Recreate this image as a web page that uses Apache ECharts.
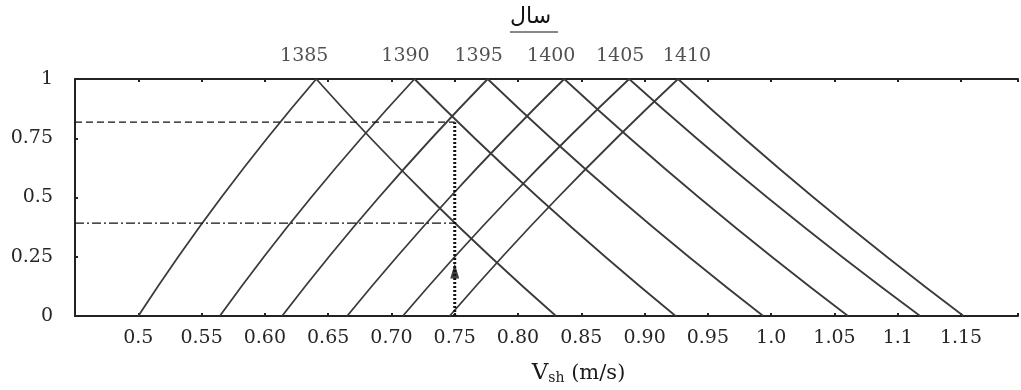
<!DOCTYPE html>
<html>
<head>
<meta charset="utf-8">
<script src="https://cdn.jsdelivr.net/npm/echarts@6/dist/echarts.min.js"></script>
<style>
html,body{margin:0;padding:0;background:#fff;}
#chart{width:1021px;height:390px;}
</style>
</head>
<body>
<div id="chart"></div>
<script>
// ---- data ----
const years     = ['1385', '1390', '1395', '1400', '1405', '1410'];
const startV    = [0.500, 0.5644, 0.6136, 0.665, 0.709, 0.746];   // membership 0 (rising side)
const riseMidV  = [0.5655, 0.6365, 0.690, 0.746, 0.7935, 0.8315]; // membership 0.5 (rising side)
const peakV     = [0.6406, 0.7182, 0.776, 0.8365, 0.8878, 0.9264]; // membership 1
const fallMidV  = [0.7295, 0.816, 0.879, 0.943, 0.997, 1.0335];   // membership 0.5 (falling side)
const endV      = [0.830, 0.9245, 0.9937, 1.0607, 1.1177, 1.152]; // membership 0 (falling side)
const midLevel  = 0.5;

const readV        = 0.75;   // velocity read on the chart
const dashLevel    = 0.818;  // dashed reading line
const dashDotLevel = 0.392;  // dash-dot reading line
const arrowLevel   = 0.19;   // arrow head position on the dotted line

const xTickValues = [0.5, 0.55, 0.6, 0.65, 0.7, 0.75, 0.8, 0.85, 0.9, 0.95, 1.0, 1.05, 1.1, 1.15];
const xTickLabels = ['0.5', '0.55', '0.60', '0.65', '0.70', '0.75', '0.80', '0.85', '0.90', '0.95', '1.0', '1.05', '1.1', '1.15'];
const yTickLabels = ['0', '0.25', '0.5', '0.75', '1'];

// style-only: horizontal nudges of the year labels
const labelDx = [-12, -9, -9, -13, -9, 9];

const FONT = 'DejaVu Serif';
const TXT = '#262626';
const chart = echarts.init(document.getElementById('chart'));

const lineStyle = { color: '#3a3a3a', width: 1.8 };
const series = [];
years.forEach((y, i) => {
  series.push({
    type: 'line', name: y + ' rise', symbol: 'none', smooth: 0.5, animation: false,
    lineStyle: lineStyle,
    data: [[startV[i], 0], [riseMidV[i], midLevel], [peakV[i], 1]],
    z: 3
  });
  series.push({
    type: 'line', name: y + ' fall', symbol: 'none', smooth: 0.5, animation: false,
    lineStyle: lineStyle,
    data: [[peakV[i], 1], [fallMidV[i], midLevel], [endV[i], 0]],
    z: 3
  });
});

// year labels above each peak
series.push({
  type: 'scatter',
  symbolSize: 1,
  itemStyle: { color: 'rgba(0,0,0,0)' },
  clip: false,
  animation: false,
  data: years.map((y, i) => ({
    value: [peakV[i], 1],
    label: {
      show: true, position: 'top', distance: 13, offset: [labelDx[i], 0],
      formatter: y, fontFamily: FONT, fontSize: 19, color: TXT
    }
  }))
});

// reading lines
series.push({
  type: 'line', symbol: 'none', animation: false,
  lineStyle: { color: '#111', width: 1.3, type: [7, 4] },
  data: [[0.45, dashLevel], [readV, dashLevel]]
});
series.push({
  type: 'line', symbol: 'none', animation: false,
  lineStyle: { color: '#111', width: 1.3, type: [9, 3, 2, 3] },
  data: [[0.45, dashDotLevel], [readV, dashDotLevel]]
});
series.push({
  type: 'line', symbol: 'none', animation: false,
  lineStyle: { color: '#111', width: 3, type: [2, 2] },
  data: [[readV, 0], [readV, dashLevel]],
  z: 4
});
series.push({
  type: 'scatter', symbol: 'triangle', symbolSize: [9, 15], animation: false,
  itemStyle: { color: '#111' },
  data: [[readV, arrowLevel]],
  z: 5
});

const option = {
  animation: false,
  backgroundColor: '#fff',
  grid: { left: 75, right: 0, top: 79, bottom: 67 },
  xAxis: [{
    type: 'value', min: 0.45, max: 1.195, interval: 0.05, position: 'bottom',
    axisLine: { show: true, lineStyle: { color: '#222', width: 2 } },
    axisTick: { show: true, inside: true, length: 3, lineStyle: { color: '#222', width: 2 } },
    splitLine: { show: false },
    axisLabel: {
      margin: 13, fontFamily: FONT, fontSize: 19, color: TXT,
      formatter: v => { const i = xTickValues.findIndex(t => Math.abs(t - v) < 1e-6); return i < 0 ? '' : xTickLabels[i]; }
    },
    name: '{v|V}{s|sh}{u| (m/s)}',
    nameLocation: 'middle', nameGap: 46,
    nameTextStyle: {
      padding: [0, 0, 0, 64],
      rich: {
        v: { fontFamily: FONT, fontSize: 23, color: '#1a1a1a' },
        s: { fontFamily: FONT, fontSize: 14, color: '#1a1a1a', verticalAlign: 'bottom', padding: [8, 0, 0, 0] },
        u: { fontFamily: FONT, fontSize: 21, color: '#1a1a1a' }
      }
    }
  }, {
    type: 'value', min: 0.45, max: 1.195, interval: 0.05, position: 'top',
    axisLine: { show: true, lineStyle: { color: '#222', width: 2 } },
    axisTick: { show: true, inside: true, length: 3, lineStyle: { color: '#222', width: 2 } },
    splitLine: { show: false },
    axisLabel: { show: false }
  }],
  yAxis: {
    type: 'value', min: 0, max: 1, interval: 0.25,
    axisLine: { show: true, lineStyle: { color: '#222', width: 2 } },
    axisTick: { show: true, inside: true, length: 3, lineStyle: { color: '#222', width: 2 } },
    splitLine: { show: false },
    axisLabel: {
      margin: 22, fontFamily: FONT, fontSize: 19, color: TXT,
      formatter: (v) => yTickLabels[Math.round(v / 0.25)]
    }
  },
  graphic: [{
    type: 'text', left: 510, top: 6,
    style: { text: 'سال', font: '22px "DejaVu Sans"', fill: '#111' }
  }, {
    type: 'line', shape: { x1: 510, y1: 32, x2: 558, y2: 32 },
    style: { stroke: '#111', lineWidth: 1 }
  }],
  series: series
};
chart.setOption(option);
</script>
</body>
</html>
